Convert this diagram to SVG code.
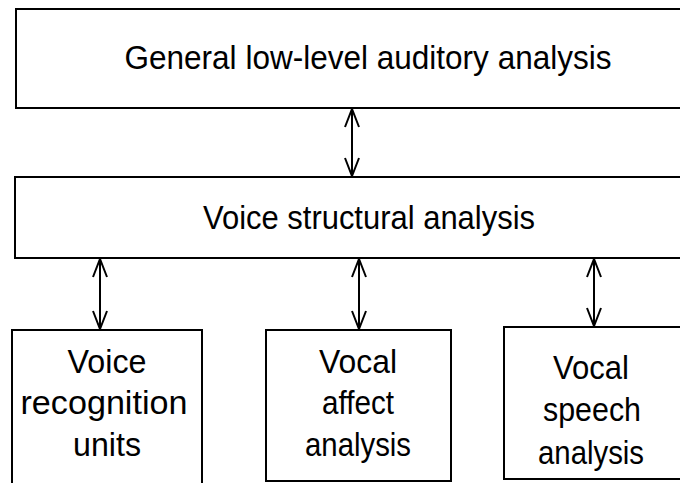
<svg xmlns="http://www.w3.org/2000/svg" width="680" height="483" viewBox="0 0 680 483">
<style>
.box{fill:#fff;stroke:#000;stroke-width:2}
.t{font-family:"Liberation Sans",Arial,sans-serif;font-size:34px;fill:#000;text-anchor:middle}
.c{stroke:#000;stroke-width:2;fill:none}
</style>
<defs>
<marker id="ah" viewBox="0 0 20 16" refX="19" refY="8" markerWidth="20" markerHeight="16" markerUnits="userSpaceOnUse" orient="auto-start-reverse">
<path d="M1,1 L19,8 L1,15" fill="none" stroke="#000" stroke-width="2"/>
</marker>
</defs>
<rect width="680" height="483" fill="#fff"/>
<g id="n-general">
<rect class="box" x="16" y="9" width="670" height="99"/>
<text class="t" x="368" y="69" textLength="487" lengthAdjust="spacingAndGlyphs">General low-level auditory analysis</text>
</g>
<g id="n-structural">
<rect class="box" x="15" y="177" width="671" height="81"/>
<text class="t" x="369" y="229" textLength="332" lengthAdjust="spacingAndGlyphs">Voice structural analysis</text>
</g>
<g id="n-recognition">
<rect class="box" x="12" y="330" width="190" height="160"/>
<text class="t" x="107" y="373" textLength="79" lengthAdjust="spacingAndGlyphs">Voice</text>
<text class="t" x="104" y="414" textLength="167" lengthAdjust="spacingAndGlyphs">recognition</text>
<text class="t" x="107" y="456" textLength="68" lengthAdjust="spacingAndGlyphs">units</text>
</g>
<g id="n-affect">
<rect class="box" x="266" y="330" width="185" height="151"/>
<text class="t" x="358" y="373" textLength="78" lengthAdjust="spacingAndGlyphs">Vocal</text>
<text class="t" x="358" y="414" textLength="72" lengthAdjust="spacingAndGlyphs">affect</text>
<text class="t" x="358" y="456" textLength="106" lengthAdjust="spacingAndGlyphs">analysis</text>
</g>
<g id="n-speech">
<rect class="box" x="504" y="327" width="182" height="152"/>
<text class="t" x="591" y="379" textLength="76" lengthAdjust="spacingAndGlyphs">Vocal</text>
<text class="t" x="592" y="421" textLength="98" lengthAdjust="spacingAndGlyphs">speech</text>
<text class="t" x="591" y="464" textLength="106" lengthAdjust="spacingAndGlyphs">analysis</text>
</g>
<g id="connectors">
<line class="c" x1="352" y1="109" x2="352" y2="176" marker-start="url(#ah)" marker-end="url(#ah)"/>
<line class="c" x1="100" y1="259" x2="100" y2="329" marker-start="url(#ah)" marker-end="url(#ah)"/>
<line class="c" x1="359" y1="259" x2="359" y2="329" marker-start="url(#ah)" marker-end="url(#ah)"/>
<line class="c" x1="594" y1="259" x2="594" y2="326" marker-start="url(#ah)" marker-end="url(#ah)"/>
</g>
</svg>
